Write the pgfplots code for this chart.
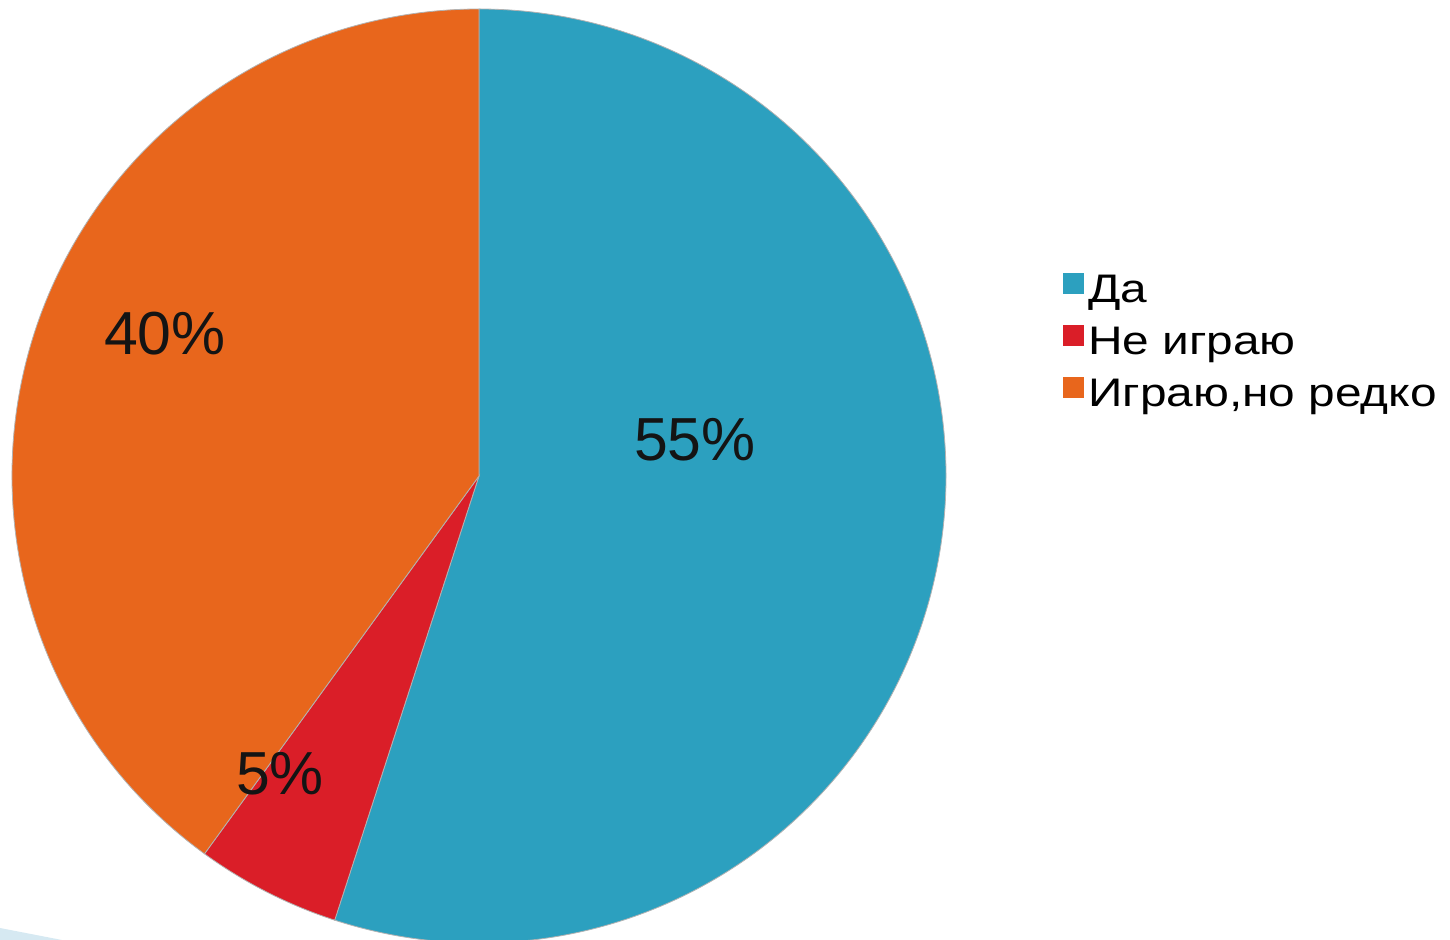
\documentclass[border=0pt]{standalone}
\usepackage{pgfplots}
\pgfplotsset{compat=1.18}
\usepackage{fontspec}
\setmainfont{Liberation Sans}
\newfontfamily\legfont[FakeStretch=1.2]{Liberation Sans}
\definecolor{cDa}{RGB}{44,160,191}
\definecolor{cNe}{RGB}{218,30,40}
\definecolor{cIg}{RGB}{232,102,28}
\definecolor{cBg}{RGB}{214,233,242}
\definecolor{cTxt}{RGB}{20,20,20}
% values (percent)
\def\vA{55}\def\vB{5}\def\vC{40}
\pgfmathsetmacro\aA{90-3.6*\vA}
\pgfmathsetmacro\aB{\aA-3.6*\vB}
\pgfmathsetmacro\aC{\aB-3.6*\vC}
\def\R{233.5bp}
\begin{document}
\begin{tikzpicture}
\begin{axis}[scale only axis, width=725bp, height=470bp,
  xmin=0, xmax=1450, ymin=0, ymax=940, y dir=reverse,
  hide axis, clip=false,
  legend image code/.code={\fill[#1] (0bp,-0.75bp) rectangle (10bp,9.25bp);},
  legend style={draw=none, fill=none, at={(axis cs:1063,273)}, anchor=north west,
    font=\legfont\fontsize{20}{25.75}\selectfont, row sep=7.25bp, inner sep=0pt,
    nodes={inner sep=0pt, text height=14.5bp, text depth=4bp},
    /tikz/every odd column/.style={column sep=2bp}},
  legend cell align=left]
\fill[cBg] (axis cs:0,928) -- (axis cs:62,940) -- (axis cs:0,940) -- cycle;
\filldraw[cDa, draw=gray!60, line width=0.4bp] (axis cs:479,476) -- ++(90:\R) arc[start angle=90, end angle=\aA, radius=\R] -- cycle;
\filldraw[cNe, draw=gray!60, line width=0.4bp] (axis cs:479,476) -- ++(\aA:\R) arc[start angle=\aA, end angle=\aB, radius=\R] -- cycle;
\filldraw[cIg, draw=gray!60, line width=0.4bp] (axis cs:479,476) -- ++(\aB:\R) arc[start angle=\aB, end angle=\aC, radius=\R] -- cycle;
\node[font=\fontsize{30.5}{36}\selectfont, text=cTxt] at (axis cs:695,440) {\vA\%};
\node[font=\fontsize{30.5}{36}\selectfont, text=cTxt] at (axis cs:280,774) {\vB\%};
\node[font=\fontsize{30.5}{36}\selectfont, text=cTxt] at (axis cs:165,334) {\vC\%};
\addlegendimage{cDa}\addlegendentry{Да}
\addlegendimage{cNe}\addlegendentry{Не играю}
\addlegendimage{cIg}\addlegendentry{Играю,но редко}
\end{axis}
\pgfresetboundingbox
\useasboundingbox (current axis.south west) rectangle (current axis.north east);
\end{tikzpicture}
\end{document}
